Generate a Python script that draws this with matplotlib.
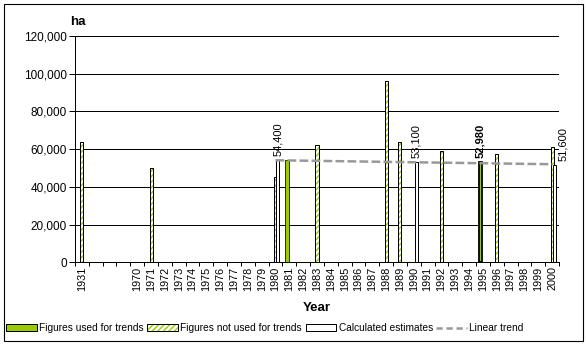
import matplotlib

matplotlib.use("Agg")
import matplotlib.pyplot as plt
import numpy as np
from matplotlib.patches import Patch, Rectangle
from matplotlib.lines import Line2D
from matplotlib.ticker import FuncFormatter, FixedLocator

plt.rcParams["font.family"] = ["Liberation Sans", "DejaVu Sans"]

# Category axis (three empty slots between 1931 and 1970)
categories = ["1931", "", "", "",
              "1970", "1971", "1972", "1973", "1974", "1975", "1976", "1977",
              "1978", "1979", "1980", "1981", "1982", "1983", "1984", "1985",
              "1986", "1987", "1988", "1989", "1990", "1991", "1992", "1993",
              "1994", "1995", "1996", "1997", "1998", "1999", "2000"]

# Figures used for trends (green)
used_years = ["1981", "1995"]
used_values = [54000, 52980]

# Figures not used for trends (hatched)
notused_years = ["1931", "1971", "1980", "1983", "1988", "1989", "1992", "1996", "2000"]
notused_values = [64000, 50000, 45000, 62000, 96000, 64000, 59000, 57500, 61000]

# Calculated estimates (white)
calc_years = ["1980", "1990", "2000"]
calc_values = [54400, 53100, 51600]

# Linear trend end points
trend_years = ["1980", "2000"]
trend_values = [54100, 52000]

# Data labels
label_years = ["1980", "1990", "1995", "2000"]
label_texts = ["54,400", "53,100", "52,980", "51,600"]
label_values = [54400, 53100, 52980, 51600]

GREEN = "#99cc00"
GRAY = "#999999"
EDGE = 0.72

W, H = 586, 345
fig = plt.figure(figsize=(W / 100, H / 100), dpi=100)
ax = fig.add_axes([75 / W, 1 - 262.3 / H, (559 - 75) / W, (262.3 - 36) / H])

pos = {c: i for i, c in enumerate(categories) if c}
off, bw = 0.17, 0.22

# gridlines behind bars
for v in range(20000, 120001, 20000):
    ax.axhline(v, color="black", lw=EDGE, zorder=0)

x_used = np.array([pos[y] for y in used_years]) - off
x_not = np.array([pos[y] for y in notused_years], dtype=float)
x_calc = np.array([pos[y] for y in calc_years]) + off

# 1995 bar carries a heavier outline in the original
edge_w = [0.55 if y != "1995" else 1.3 for y in used_years]
ax.bar(x_used, used_values, width=bw + 0.04, color=GREEN, edgecolor="black", linewidth=edge_w, zorder=2)
ax.bar(x_not, notused_values, width=bw, color="white", edgecolor=GREEN, hatch="//////", linewidth=0, zorder=2)
ax.bar(x_not, notused_values, width=bw, fill=False, edgecolor="black", linewidth=EDGE, zorder=2)
ax.bar(x_calc, calc_values, width=bw, color="white", edgecolor="black", linewidth=EDGE, zorder=2)

ax.plot([pos[y] for y in trend_years], trend_values, color=GRAY, lw=1.8,
        dashes=(3.5, 1.3), zorder=3)

# value labels (2000 pushed right as in the original)
label_dx = {"1980": 0, "1990": 0, "1995": 0, "2000": 6}
for y, t, v in zip(label_years, label_texts, label_values):
    xc = pos[y] + off if y != "1995" else pos[y] - off
    ax.annotate(t, (xc, v), xytext=(label_dx[y], 3),
                textcoords="offset points", rotation=90, ha="center", va="bottom",
                fontsize=8, fontweight="bold" if y == "1995" else "normal", zorder=4)

ax.set_xlim(-0.5, len(categories) - 0.5)
ax.set_ylim(0, 120000)

ax.xaxis.set_major_locator(FixedLocator(np.arange(-0.5, len(categories), 1.0)))
ax.xaxis.set_minor_locator(FixedLocator(np.arange(len(categories))))
ax.set_xticklabels([], minor=False)
ax.set_xticklabels(categories, minor=True, rotation=90, fontsize=7.8)
ax.tick_params(axis="x", which="major", direction="out", length=3, width=EDGE)
ax.tick_params(axis="x", which="minor", length=0, pad=3)

ax.set_yticks(range(0, 120001, 20000))
ax.yaxis.set_major_formatter(FuncFormatter(lambda v, p: f"{v:,.0f}"))
ax.tick_params(axis="y", direction="out", length=4, width=EDGE, labelsize=8.5, pad=2)

for s in ("top", "right"):
    ax.spines[s].set_visible(False)
for s in ("left", "bottom"):
    ax.spines[s].set_linewidth(EDGE)
    ax.spines[s].set_zorder(5)

fig.text(70 / W, 1 - 22 / H, "ha", fontsize=9.5, fontweight="bold", va="center", ha="left")
fig.text(317 / W, 1 - 308 / H, "Year", fontsize=9.5, fontweight="bold", va="center", ha="center")

handles = [
    Patch(facecolor=GREEN, edgecolor="black", linewidth=EDGE),
    (Patch(facecolor="white", edgecolor=GREEN, hatch="//////", linewidth=0),
     Patch(fill=False, edgecolor="black", linewidth=EDGE)),
    Patch(facecolor="white", edgecolor="black", linewidth=EDGE),
    Line2D([], [], color=GRAY, lw=1.8, dashes=(2.5, 1.5)),
]
names = ["Figures used for trends", "Figures not used for trends",
         "Calculated estimates", "Linear trend"]
fig.legend(handles, names, loc="center", bbox_to_anchor=(265 / W, 1 - 328 / H), ncol=4,
           frameon=False, fontsize=7.3, handlelength=3.0, handleheight=0.6,
           handletextpad=0.25, columnspacing=0.35, borderpad=0)

fig.add_artist(Rectangle((3.5 / W, 1 - 340.5 / H), 579 / W, 337 / H, transform=fig.transFigure,
                         fill=False, edgecolor="black", linewidth=0.8))

fig.savefig("out.png", dpi=100)
